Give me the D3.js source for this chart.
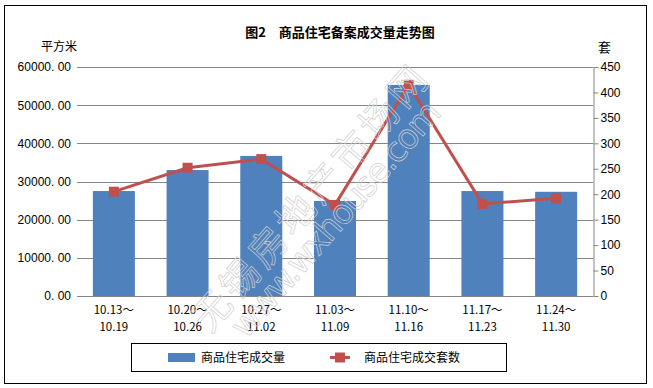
<!DOCTYPE html>
<html lang="zh">
<head>
<meta charset="utf-8">
<title>图2 商品住宅备案成交量走势图</title>
<script src="https://d3js.org/d3.v7.min.js"></script>
<style>
  body { margin: 0; background: #fff; }
  svg { display: block; font-family: "Noto Sans CJK SC", "DejaVu Sans", sans-serif; }
  .tick text { font-size: 12px; fill: #000; }
  .grid line { stroke: #868686; }
</style>
</head>
<body>
<script>
// data
var weeksTop = ["10.13～", "10.20～", "10.27～", "11.03～", "11.10～", "11.17～", "11.24～"];
var weeksBottom = ["10.19", "10.26", "11.02", "11.09", "11.16", "11.23", "11.30"];
var area = [27500, 33000, 36700, 24900, 55300, 27500, 27300];   // 平方米
var units = [205, 252, 269, 179, 415, 181, 192];                 // 套
var leftTicks = [0, 10000, 20000, 30000, 40000, 50000, 60000];
var rightTicks = [0, 50, 100, 150, 200, 250, 300, 350, 400, 450];

var W = 653, H = 388;
var x0 = 77, x1 = 593, yTop = 67, yBot = 296;

var svg = d3.select("body").append("svg")
  .attr("width", W).attr("height", H);

// outer frame
svg.append("rect")
  .attr("x", 4.5).attr("y", 5.5).attr("width", 642).attr("height", 378)
  .attr("fill", "#fff").attr("stroke", "#000").attr("stroke-width", 1);

var x = d3.scaleBand().domain(d3.range(area.length)).range([x0, x1]).paddingInner(0.43).paddingOuter(0.215);
var yL = d3.scaleLinear().domain([0, 60000]).range([yBot, yTop]);
var yR = d3.scaleLinear().domain([0, 450]).range([yBot, yTop]);

// gridlines
svg.append("g").attr("class", "grid")
  .selectAll("line").data(leftTicks.slice(1)).enter().append("line")
  .attr("x1", x0).attr("x2", x1)
  .attr("y1", function (d) { return Math.round(yL(d)) + 0.5; })
  .attr("y2", function (d) { return Math.round(yL(d)) + 0.5; });

// left axis
var gl = svg.append("g").attr("transform", "translate(" + (x0 - 6) + ",0)")
  .call(d3.axisLeft(yL).tickValues(leftTicks).tickSize(0).tickPadding(0)
    .tickFormat(function (d) { return d3.format(".2f")(d).replace(".", ". "); }));
gl.select(".domain").remove();

// bars
svg.append("g").selectAll("rect").data(area).enter().append("rect")
  .attr("x", function (d, i) { return x(i); })
  .attr("width", x.bandwidth())
  .attr("y", function (d) { return yL(d); })
  .attr("height", function (d) { return yBot - yL(d); })
  .attr("fill", "#4f81bd");

// bottom axis line
svg.append("line").attr("x1", x0).attr("x2", x1)
  .attr("y1", yBot + 0.5).attr("y2", yBot + 0.5).attr("stroke", "#868686");

// right axis
var gr = svg.append("g").attr("transform", "translate(" + (x1 + 0.5) + ",0)")
  .call(d3.axisRight(yR).tickValues(rightTicks).tickSize(5).tickSizeOuter(0).tickPadding(2));
gr.select(".domain").attr("stroke", "#868686");
gr.selectAll(".tick line").attr("stroke", "#868686");

// x labels, two lines each
var xl = svg.append("g").selectAll("text").data(weeksTop).enter().append("text")
  .attr("text-anchor", "middle").attr("font-size", 11.5)
  .attr("x", function (d, i) { return x(i) + x.bandwidth() / 2; });
xl.append("tspan").attr("y", 314).text(function (d) { return d; });
xl.append("tspan")
  .attr("x", function (d, i) { return x(i) + x.bandwidth() / 2; })
  .attr("y", 331).text(function (d, i) { return weeksBottom[i]; });

// line series
var cx = function (d, i) { return x(i) + x.bandwidth() / 2; };
svg.append("path").datum(units)
  .attr("fill", "none").attr("stroke", "#c0504d").attr("stroke-width", 3)
  .attr("d", d3.line().x(cx).y(function (d) { return yR(d); }));
svg.append("g").selectAll("rect").data(units).enter().append("rect")
  .attr("x", function (d, i) { return cx(d, i) - 5; })
  .attr("y", function (d) { return yR(d) - 5; })
  .attr("width", 10).attr("height", 10)
  .attr("fill", "#c0504d");

// watermark
var wm = svg.append("g").attr("fill", "none").attr("stroke", "#cfcfcf").attr("stroke-width", 0.7);
wm.append("text").attr("transform", "translate(210,334) rotate(-49)")
  .attr("font-size", 38).attr("font-family", "Noto Sans CJK SC")
  .attr("textLength", 335).text("无锡房地产市场网");
wm.append("text").attr("transform", "translate(246,340) rotate(-49)")
  .attr("font-size", 34).attr("font-family", "DejaVu Sans")
  .attr("textLength", 300).text("www.wxhouse.com");

// title and units
svg.append("text").attr("x", 340).attr("y", 37).attr("text-anchor", "middle")
  .attr("font-size", 13).attr("font-weight", "bold").text("图2　商品住宅备案成交量走势图");
svg.append("text").attr("x", 41).attr("y", 51).attr("font-size", 12).text("平方米");
svg.append("text").attr("x", 598).attr("y", 52).attr("font-size", 13).text("套");

// legend
var lg = svg.append("g");
lg.append("rect").attr("x", 131.5).attr("y", 343.5).attr("width", 375).attr("height", 28)
  .attr("fill", "#fff").attr("stroke", "#000");
lg.append("rect").attr("x", 168).attr("y", 353).attr("width", 27).attr("height", 9).attr("fill", "#4f81bd");
lg.append("text").attr("x", 201).attr("y", 362).attr("font-size", 12).text("商品住宅成交量");
lg.append("line").attr("x1", 330).attr("x2", 350).attr("y1", 357.5).attr("y2", 357.5)
  .attr("stroke", "#c0504d").attr("stroke-width", 3);
lg.append("rect").attr("x", 335).attr("y", 352.5).attr("width", 10).attr("height", 10).attr("fill", "#c0504d");
lg.append("text").attr("x", 364).attr("y", 362).attr("font-size", 12).text("商品住宅成交套数");
</script>
</body>
</html>
